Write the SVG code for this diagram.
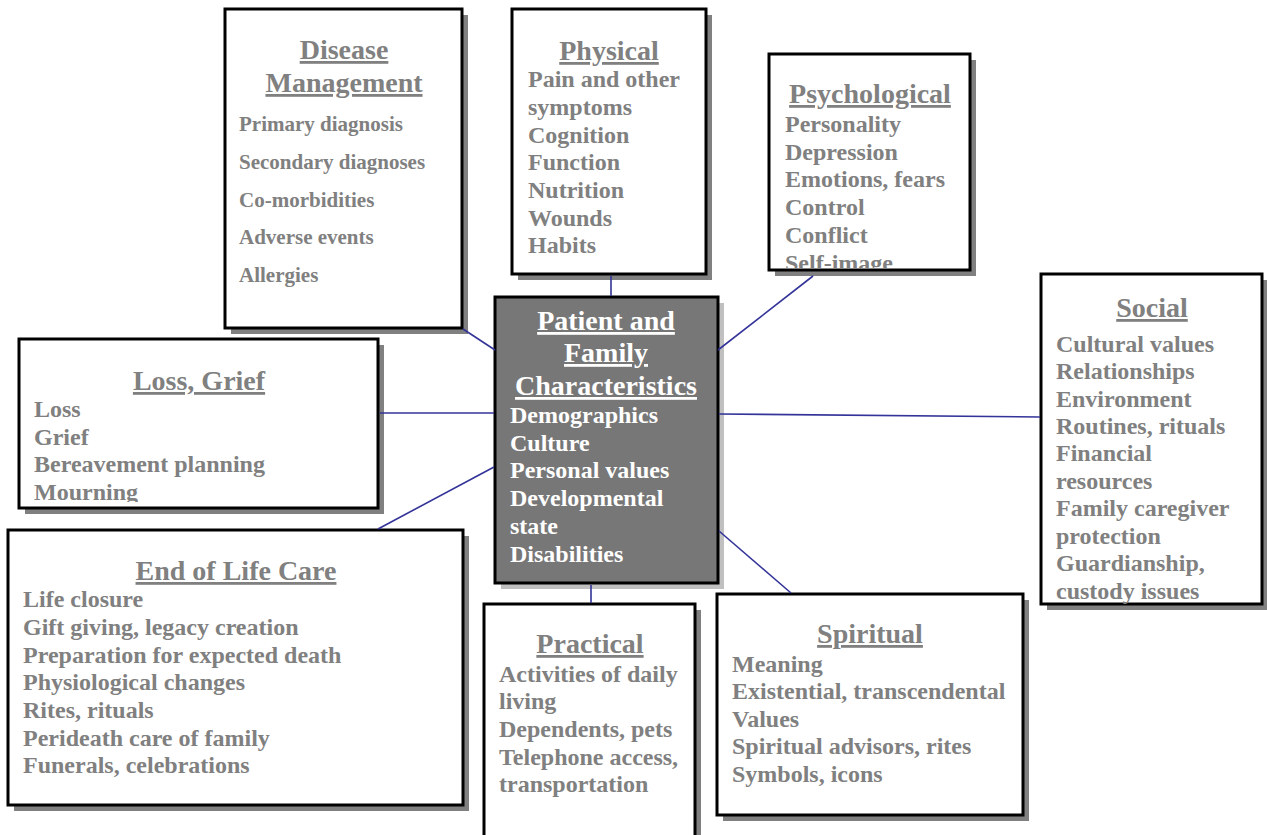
<svg xmlns="http://www.w3.org/2000/svg" width="1267" height="835" viewBox="0 0 1267 835">
<style>
.box{fill:#fff;stroke:#000;stroke-width:3}
.sh{fill:#808080}
.csh{fill:#c0c0c0}
.cbox{fill:#777;stroke:#000;stroke-width:3}
text{font-family:"Liberation Serif","Times New Roman",serif;font-weight:bold}
.h{font-size:28px;fill:#808080;text-anchor:middle;text-decoration:underline}
.i{font-size:24px;fill:#808080}
.is{font-size:21px;fill:#808080}
.ch{font-size:28px;fill:#fff;text-anchor:middle;text-decoration:underline}
.ci{font-size:24px;fill:#fff}
.con line{stroke:#333399;stroke-width:1.6}
</style>
<defs>
<clipPath id="clipPsy"><rect x="770" y="55" width="199" height="213"/></clipPath>
<clipPath id="clipLoss"><rect x="20" y="340" width="357" height="162"/></clipPath>
</defs>
<rect width="1267" height="835" fill="#fff"/>
<g id="disease">
<rect class="sh" x="231" y="15" width="237" height="319"/>
<rect class="box" x="225" y="9" width="237" height="319"/>
<text class="h" x="344" y="59">Disease</text>
<text class="h" x="344" y="92">Management</text>
<text class="is" x="239" y="131">Primary diagnosis</text>
<text class="is" x="239" y="169">Secondary diagnoses</text>
<text class="is" x="239" y="207">Co-morbidities</text>
<text class="is" x="239" y="244">Adverse events</text>
<text class="is" x="239" y="282">Allergies</text>
</g>
<g id="physical">
<rect class="sh" x="518" y="15" width="194" height="265"/>
<rect class="box" x="512" y="9" width="194" height="265"/>
<text class="h" x="609" y="60">Physical</text>
<text class="i" x="528" y="87">Pain and other</text>
<text class="i" x="528" y="115">symptoms</text>
<text class="i" x="528" y="143">Cognition</text>
<text class="i" x="528" y="170">Function</text>
<text class="i" x="528" y="198">Nutrition</text>
<text class="i" x="528" y="226">Wounds</text>
<text class="i" x="528" y="253">Habits</text>
</g>
<g id="psychological">
<rect class="sh" x="775" y="60" width="201" height="216"/>
<rect class="box" x="769" y="54" width="201" height="216"/>
<g clip-path="url(#clipPsy)">
<text class="h" x="870" y="103">Psychological</text>
<text class="i" x="785" y="132">Personality</text>
<text class="i" x="785" y="160">Depression</text>
<text class="i" x="785" y="187">Emotions, fears</text>
<text class="i" x="785" y="215">Control</text>
<text class="i" x="785" y="243">Conflict</text>
<text class="i" x="785" y="271">Self-image</text>
</g>
</g>
<g id="social">
<rect class="sh" x="1047" y="280" width="221" height="330"/>
<rect class="box" x="1041" y="274" width="221" height="330"/>
<text class="h" x="1152" y="317">Social</text>
<text class="i" x="1056" y="352">Cultural values</text>
<text class="i" x="1056" y="379">Relationships</text>
<text class="i" x="1056" y="407">Environment</text>
<text class="i" x="1056" y="434">Routines, rituals</text>
<text class="i" x="1056" y="461">Financial</text>
<text class="i" x="1056" y="489">resources</text>
<text class="i" x="1056" y="516">Family caregiver</text>
<text class="i" x="1056" y="544">protection</text>
<text class="i" x="1056" y="571">Guardianship,</text>
<text class="i" x="1056" y="599">custody issues</text>
</g>
<g id="center">
<rect class="csh" x="501" y="303" width="223" height="286"/>
<rect class="cbox" x="495" y="297" width="223" height="286"/>
<text class="ch" x="606" y="330">Patient and</text>
<text class="ch" x="606" y="362">Family</text>
<text class="ch" x="606" y="395">Characteristics</text>
<text class="ci" x="510" y="423">Demographics</text>
<text class="ci" x="510" y="451">Culture</text>
<text class="ci" x="510" y="478">Personal values</text>
<text class="ci" x="510" y="506">Developmental</text>
<text class="ci" x="510" y="534">state</text>
<text class="ci" x="510" y="562">Disabilities</text>
</g>
<g id="loss">
<rect class="sh" x="25" y="345" width="359" height="169"/>
<rect class="box" x="19" y="339" width="359" height="169"/>
<g clip-path="url(#clipLoss)">
<text class="h" x="199" y="390">Loss, Grief</text>
<text class="i" x="34" y="417">Loss</text>
<text class="i" x="34" y="445">Grief</text>
<text class="i" x="34" y="472">Bereavement planning</text>
<text class="i" x="34" y="500">Mourning</text>
</g>
</g>
<g id="endoflife">
<rect class="sh" x="14" y="536" width="455" height="275"/>
<rect class="box" x="8" y="530" width="455" height="275"/>
<text class="h" x="236" y="580">End of Life Care</text>
<text class="i" x="23" y="607">Life closure</text>
<text class="i" x="23" y="635">Gift giving, legacy creation</text>
<text class="i" x="23" y="663">Preparation for expected death</text>
<text class="i" x="23" y="690">Physiological changes</text>
<text class="i" x="23" y="718">Rites, rituals</text>
<text class="i" x="23" y="746">Perideath care of family</text>
<text class="i" x="23" y="773">Funerals, celebrations</text>
</g>
<g id="practical">
<rect class="sh" x="490" y="610" width="211" height="240"/>
<rect class="box" x="484" y="604" width="211" height="240"/>
<text class="h" x="590" y="653">Practical</text>
<text class="i" x="499" y="682">Activities of daily</text>
<text class="i" x="499" y="709">living</text>
<text class="i" x="499" y="737">Dependents, pets</text>
<text class="i" x="499" y="765">Telephone access,</text>
<text class="i" x="499" y="792">transportation</text>
</g>
<g id="spiritual">
<rect class="sh" x="723" y="600" width="306" height="221"/>
<rect class="box" x="717" y="594" width="306" height="221"/>
<text class="h" x="870" y="643">Spiritual</text>
<text class="i" x="732" y="672">Meaning</text>
<text class="i" x="732" y="699">Existential, transcendental</text>
<text class="i" x="732" y="727">Values</text>
<text class="i" x="732" y="754">Spiritual advisors, rites</text>
<text class="i" x="732" y="782">Symbols, icons</text>
</g>
<g class="con">
<line x1="463" y1="329" x2="495" y2="350"/>
<line x1="611" y1="276" x2="611" y2="296"/>
<line x1="813" y1="276" x2="718" y2="350"/>
<line x1="380" y1="413" x2="494" y2="413"/>
<line x1="378" y1="529" x2="494" y2="467"/>
<line x1="719" y1="414" x2="1040" y2="417"/>
<line x1="719" y1="531" x2="791" y2="593"/>
<line x1="591" y1="585" x2="591" y2="603"/>
</g>
</svg>
